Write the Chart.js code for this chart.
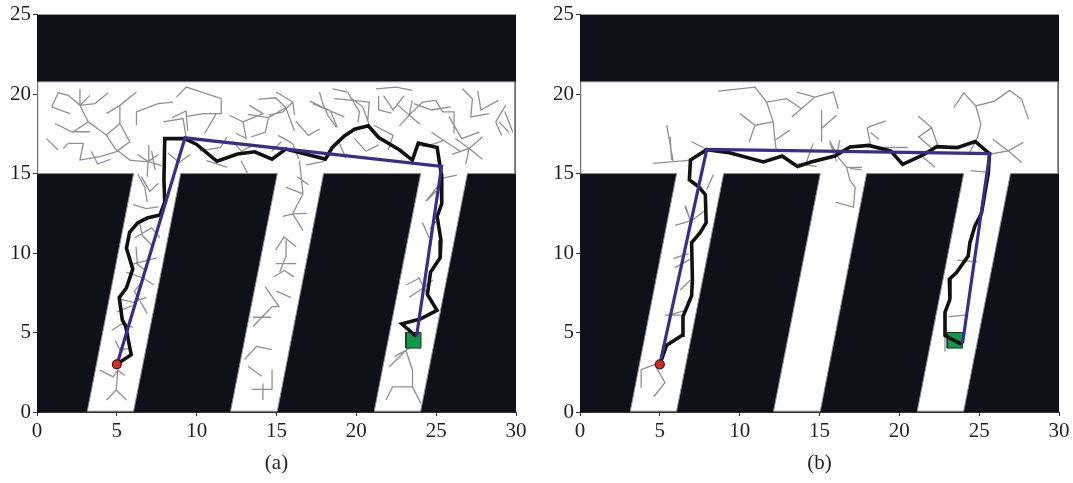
<!DOCTYPE html>
<html>
<head>
<meta charset="utf-8">
<script src="https://cdn.jsdelivr.net/npm/chart.js@4/dist/chart.umd.min.js"></script>
<style>
  html, body { margin: 0; padding: 0; background: #ffffff; }
  #wrap { position: relative; width: 1073px; height: 483px; overflow: hidden; }
  canvas { position: absolute; top: 0; }
</style>
</head>
<body>
<div id="wrap">
  <canvas id="ca" width="540" height="483" style="left:0px"></canvas>
  <canvas id="cb" width="533" height="483" style="left:540px"></canvas>
</div>
<script>
// ---------------- DATA ----------------
const xTicks = [0, 5, 10, 15, 20, 25, 30];
const yTicks = [0, 5, 10, 15, 20, 25];
const captions = ['(a)', '(b)'];

// free space (white) of the map
const freeSpace = [[0.05,15],[0.05,20.77],[29.93,20.77],[29.93,15],[26.96,15],[24.03,0.05],[21.12,0.05],[24.03,15],
  [17.95,15],[15.05,0.05],[12.12,0.05],[15.05,15],[9.0,15],[6.05,0.05],[3.15,0.05],[6.05,15],[0.05,15]];

const startPoint = [5, 3];

const goalA = [[23.1,4.02],[24.05,4.02],[24.05,5.0],[23.1,5.0],[23.1,4.02]];
const goalB = [[23.0,4.02],[23.96,4.02],[23.96,5.0],[23.0,5.0],[23.0,4.02]];

const pathA = [[5.0,3.0],[5.9,3.6],[5.55,5.4],[5.34,5.8],[5.15,7.2],[5.6,7.8],[6.0,9.0],[5.6,10.3],[5.8,11.3],[6.3,11.9],
  [6.9,12.2],[7.7,12.4],[8.0,13.2],[7.95,14.6],[8.0,17.2],[9.25,17.2],[9.98,16.85],[11.27,15.77],[12.56,16.23],
  [13.64,16.37],[14.72,15.91],[15.58,16.54],[18.06,15.91],[18.49,16.64],[19.25,17.37],[19.89,17.79],[20.75,18.0],
  [21.4,17.27],[22.69,16.5],[23.51,15.85],[23.88,16.91],[25.06,16.64],[25.32,14.97],[25.35,13.1],[25.06,12.3],
  [25.3,10.8],[25.25,9.7],[24.65,8.8],[24.45,7.4],[25.05,6.4],[24.0,5.85],[22.85,5.55],[23.75,4.75]];
const shortA = [[5.02,3.02],[9.27,17.25],[25.34,15.45],[23.77,4.75]];

const pathB = [[5.0,3.0],[5.43,4.2],[6.4,4.83],[6.45,6.0],[6.99,7.31],[7.04,8.3],[6.99,10.65],[7.51,11.27],[7.9,11.9],
  [7.85,13.67],[7.41,14.19],[6.85,14.6],[6.92,15.85],[7.94,16.5],[9.36,16.31],[11.49,15.73],[12.66,16.1],[13.62,15.44],
  [14.47,15.73],[15.96,16.1],[16.91,16.67],[18.09,16.77],[19.47,16.42],[20.21,15.58],[21.49,16.17],[22.34,16.69],
  [23.62,16.63],[24.75,17.02],[25.65,16.25],[25.57,15.02],[25.15,12.52],[24.73,11.69],[24.42,10.65],[24.31,9.81],
  [23.58,8.77],[23.13,8.35],[23.17,7.1],[22.86,6.27],[22.86,4.81],[23.9,4.25]];
const shortB = [[5.0,3.0],[7.94,16.52],[25.66,16.25],[23.96,4.33]];

// exploration tree branches (polylines)
const treeA = [
  [[0.92,19.19],[2.06,18.77]],
  [[0.92,19.19],[1.33,20.08],[1.96,19.92],[2.69,19.29],[3.31,19.92]],
  [[2.69,20.33],[2.69,19.29],[3.21,18.25],[2.27,17.63]],
  [[2.69,19.29],[3.63,19.4],[4.46,20.08]],
  [[3.21,18.25],[4.35,17.42],[4.88,16.58]],
  [[1.13,18.15],[2.17,17.63],[3.31,17.63]],
  [[4.35,17.42],[5.19,18.15],[5.81,17.0],[4.98,16.38]],
  [[4.35,18.77],[5.19,19.29],[6.23,20.13]],
  [[5.19,18.15],[5.19,19.29]],
  [[6.23,18.04],[6.23,18.88],[7.58,19.4],[8.52,19.5]],
  [[7.9,18.25],[9.15,18.46],[9.35,17.21]],
  [[8.73,19.81],[9.35,20.44],[9.98,20.23],[11.54,19.71]],
  [[11.54,19.71],[11.54,18.77],[10.4,18.77],[9.4,18.6]],
  [[11.23,18.77],[10.5,17.52]],
  [[1.65,16.58],[1.96,16.9],[2.9,16.9],[2.69,15.85],[3.94,16.06],[4.98,16.38]],
  [[4.88,16.58],[5.81,15.85],[6.75,15.75],[6.96,15.75]],
  [[6.3,16.2],[6.96,15.75],[7.6,16.2]],
  [[6.96,15.75],[7.8,15.5]],
  [[6.96,15.75],[6.9,14.8]],
  [[6.96,15.75],[7.0,16.8]],
  [[12.06,18.67],[12.9,18.25],[13.1,17.21],[12.48,17.52]],
  [[12.9,18.25],[14.15,18.77],[13.31,19.29]],
  [[13.21,18.73],[14.5,18.52],[15.58,19.15],[16.12,17.69]],
  [[13.86,19.67],[14.94,19.77],[15.58,19.15]],
  [[14.5,18.52],[14.3,17.6],[13.4,17.3]],
  [[15.1,17.4],[16.0,16.9],[16.4,15.9]],
  [[12.3,17.0],[12.8,16.4],[13.6,16.8]],
  [[14.98,20.13],[16.02,19.5],[15.4,18.88],[14.56,18.67]],
  [[16.02,19.5],[16.13,18.67]],
  [[17.69,20.13],[17.9,19.4],[18.21,18.67],[18.73,17.94]],
  [[17.27,19.4],[19.25,18.56]],
  [[18.52,20.33],[19.46,20.13],[20.19,18.88],[20.1,18.2]],
  [[18.62,19.71],[19.75,19.6],[20.81,19.5],[20.71,18.25]],
  [[21.23,20.33],[22.48,20.44],[23.52,20.23]],
  [[21.4,19.9],[21.4,19.0],[22.2,18.8]],
  [[22.5,19.4],[23.31,18.67],[24.15,19.5],[24.98,19.6]],
  [[23.31,18.67],[22.7,18.0]],
  [[23.31,18.67],[23.5,19.6]],
  [[23.31,18.67],[24.0,18.1]],
  [[24.98,19.6],[25.4,18.88],[26.12,18.88],[26.12,17.52]],
  [[26.2,17.2],[27.06,16.58],[27.9,17.3]],
  [[27.06,16.58],[27.9,15.9]],
  [[27.06,16.58],[26.85,15.6]],
  [[27.06,16.58],[26.0,16.2]],
  [[26.65,20.33],[27.27,19.71],[27.17,18.56],[28.31,18.77]],
  [[28.73,18.25],[29.35,19.29]],
  [[28.94,18.25],[29.56,17.6]],
  [[28.73,18.25],[29.1,17.4]],
  [[24.15,16.69],[24.98,16.9],[25.5,17.1]],
  [[18.94,16.9],[19.35,15.96]],
  [[16.85,15.54],[17.9,15.75],[18.5,16.3]],
  [[21.1,18.04],[22.3,17.4],[22.0,16.5]],
  [[14.7,16.4],[15.3,17.0]],
  [[8.47,18.52],[9.33,18.94],[9.44,17.69]],
  [[10.19,16.43],[11.49,16.64],[11.9,17.3]],
  [[10.62,15.81],[11.92,15.39]],
  [[12.78,15.81],[13.21,14.97]],
  [[17.09,19.56],[18.38,18.94],[18.81,17.9]],
  [[19.6,19.8],[20.4,19.2],[20.9,17.8]],
  [[21.7,19.9],[22.3,19.0],[23.0,19.9]],
  [[23.6,19.4],[24.7,19.0],[25.9,19.2]],
  [[25.8,18.6],[26.6,17.2],[27.7,17.6]],
  [[24.7,17.6],[25.6,17.0],[26.5,16.4]],
  [[27.6,20.2],[27.8,19.0],[28.9,19.6]],
  [[29.3,18.9],[29.8,17.6]],
  [[3.4,16.4],[3.8,15.6],[4.6,15.9]],
  [[0.6,17.2],[1.3,16.5]],
  [[19.9,17.2],[20.6,16.4],[21.4,16.8]],
  [[16.2,18.3],[17.0,17.4],[17.7,17.8]],
  [[8.2,16.3],[8.9,15.7],[9.6,16.2]],
  [[6.54,14.81],[7.06,13.88],[7.6,14.4]],
  [[6.02,13.04],[6.85,12.8],[7.6,12.9]],
  [[6.13,10.96],[7.17,11.58],[7.69,10.96]],
  [[6.2,10.4],[6.29,9.29],[6.8,8.9]],
  [[6.0,9.3],[7.5,9.7]],
  [[5.6,8.8],[6.7,8.4],[7.3,8.0]],
  [[5.19,7.1],[6.02,6.9],[6.85,7.21]],
  [[5.0,6.3],[6.0,6.7]],
  [[4.67,5.13],[5.29,5.54],[6.02,5.33]],
  [[4.9,4.5],[5.2,3.9],[5.8,4.0]],
  [[3.94,2.63],[4.77,2.21],[5.06,2.63]],
  [[5.06,2.63],[4.96,1.38],[5.6,0.75]],
  [[4.96,1.38],[4.35,0.75]],
  [[5.06,2.63],[5.5,2.3]],
  [[6.31,14.97],[6.75,14.14],[6.9,13.2]],
  [[7.18,16.43],[7.4,15.2]],
  [[6.4,12.0],[6.6,11.1],[7.3,10.4]],
  [[6.5,8.1],[6.1,7.6],[6.9,6.2]],
  [[16.44,15.81],[16.66,13.72],[16.01,12.47],[16.66,11.43]],
  [[15.58,14.14],[16.66,13.72]],
  [[15.4,12.3],[16.01,12.47],[16.9,12.5]],
  [[16.23,10.39],[15.47,11.01],[14.94,10.18]],
  [[14.94,9.34],[16.23,9.34]],
  [[14.83,8.51],[15.5,8.9],[16.1,8.5]],
  [[14.29,7.88],[15.15,6.63],[14.72,6.63],[13.53,5.38]],
  [[13.75,4.13],[13.0,3.3]],
  [[13.75,4.13],[14.72,3.92]],
  [[13.21,2.88],[14.07,2.25]],
  [[13.43,1.42],[14.72,1.42],[14.72,2.67]],
  [[15.6,10.8],[15.6,9.8],[15.2,8.8]],
  [[13.52,5.96],[14.67,5.96]],
  [[14.15,1.79],[14.15,0.75]],
  [[16.3,14.8],[17.0,14.3]],
  [[15.0,7.6],[15.9,7.2]],
  [[25.4,14.71],[26.3,14.9]],
  [[24.35,13.25],[25.1,14.2]],
  [[24.15,11.9],[24.56,10.96]],
  [[23.31,7.21],[24.23,7.83],[24.8,8.3]],
  [[24.23,7.83],[23.9,8.5]],
  [[24.23,7.83],[24.6,7.1]],
  [[22.06,2.83],[23.1,3.88],[23.8,4.3]],
  [[23.1,3.88],[23.52,2.63],[23.52,1.58],[22.27,1.58],[21.85,0.75]],
  [[23.52,1.58],[24.04,0.54]],
  [[22.4,3.5],[23.1,3.88]],
  [[24.42,13.31],[25.0,13.9]],
  [[23.13,7.99],[23.9,8.4]],
  [[24.6,11.5],[25.0,12.0]]
];

const treeB = [
  [[8.66,20.19],[10.96,20.44],[11.69,19.5],[12.1,18.25],[12.21,17.1],[12.3,16.4]],
  [[12.1,18.25],[10.96,18.04],[10.02,18.77]],
  [[10.96,18.04],[10.6,17.0]],
  [[11.69,19.5],[12.94,19.71],[13.88,19.08]],
  [[13.57,20.13],[14.72,19.81],[15.86,20.13],[16.17,19.08]],
  [[14.72,19.81],[13.26,18.56]],
  [[12.21,17.1],[13.15,17.73]],
  [[15.13,18.98],[15.13,17.0]],
  [[15.13,17.83],[16.07,18.67]],
  [[14.61,16.9],[14.19,15.75]],
  [[15.65,17.0],[16.07,15.75]],
  [[16.28,17.1],[16.07,16.2]],
  [[5.43,18.04],[5.84,15.75]],
  [[4.59,15.64],[6.99,15.85]],
  [[6.99,17.0],[8.03,16.48]],
  [[13.67,15.64],[14.82,15.44]],
  [[16.9,15.33],[17.64,15.23]],
  [[15.64,17.06],[16.17,16.02],[16.7,15.39],[17.66,15.39]],
  [[16.7,15.39],[16.91,14.56],[17.23,14.14],[17.13,12.89],[16.0,13.2]],
  [[17.98,17.89],[19.15,18.31]],
  [[17.98,17.89],[18.19,16.85]],
  [[18.19,17.58],[18.72,17.16]],
  [[18.72,16.64],[20.53,16.64]],
  [[21.17,18.62],[22.02,17.89],[22.45,16.64]],
  [[21.17,17.27],[22.02,17.89]],
  [[21.49,16.02],[22.23,15.39]],
  [[23.4,19.14],[24.04,20.08],[24.79,19.25],[25.96,19.56],[26.91,20.23],[27.66,19.67],[28.09,18.41]],
  [[24.79,19.25],[25.11,18.1],[24.89,17.27],[24.36,16.23]],
  [[25.85,17.16],[26.81,16.43],[27.66,15.7]],
  [[26.81,16.43],[27.77,16.96]],
  [[25.74,16.23],[26.81,16.43]],
  [[24.47,15.18],[25.53,15.08]],
  [[23.62,9.55],[24.89,9.45]],
  [[23.09,6.0],[24.15,6.1]],
  [[22.86,4.84],[22.86,3.8]],
  [[6.6,12.99],[6.91,12.05]],
  [[5.96,11.74],[7.02,12.05],[7.83,12.68]],
  [[5.85,9.66],[6.81,9.97]],
  [[6.28,7.67],[6.91,8.3]],
  [[5.32,6.1],[6.38,6.1]],
  [[3.83,2.67],[4.68,2.98],[5.32,1.84],[4.62,0.96]],
  [[3.83,2.67],[3.83,1.52]],
  [[5.64,17.3],[5.74,15.85]],
  [[8.35,14.92],[7.93,13.98]],
  [[6.57,12.94],[6.89,12.1]],
  [[5.95,9.08],[6.89,9.6]],
  [[5.43,6.06],[6.57,6.38]],
  [[21.18,17.35],[22.12,16.52]]
];

// ---------------- HELPERS ----------------
const toPts = arr => arr.map(p => ({x: p[0], y: p[1]}));
const polylines = list => {
  const out = [];
  list.forEach((pl, i) => {
    if (i > 0) out.push({x: null, y: null});
    pl.forEach(p => out.push({x: p[0], y: p[1]}));
  });
  return out;
};

Chart.defaults.font.family = "'Liberation Serif', 'DejaVu Serif', serif";
Chart.defaults.color = '#231f20';

const plotBg = {
  id: 'plotBg',
  beforeDatasetsDraw(chart) {
    const {ctx, chartArea: a} = chart;
    ctx.save();
    ctx.fillStyle = '#0e1118';
    ctx.fillRect(a.left, a.top, a.right - a.left, a.bottom - a.top);
    ctx.restore();
  }
};

function makeChart(id, yAxisWidth, rightPad, tree, path, shortPath, goal, caption) {
  return new Chart(document.getElementById(id), {
    type: 'scatter',
    data: {
      datasets: [
        { data: toPts(freeSpace), showLine: true, fill: 'shape', backgroundColor: '#ffffff',
          borderColor: '#8a8a8a', borderWidth: 1, pointRadius: 0, order: 10 },
        { data: polylines(tree), showLine: true, spanGaps: false, borderColor: '#8f8f8f',
          borderWidth: 1.3, pointRadius: 0, fill: false, order: 8 },
        { data: toPts(goal), showLine: true, fill: 'shape', backgroundColor: '#0f9a48',
          borderColor: '#2a2a2a', borderWidth: 1, pointRadius: 0, order: 6 },
        { data: toPts(path), showLine: true, borderColor: '#111111', borderWidth: 3.6,
          pointRadius: 0, fill: false, borderJoinStyle: 'miter', order: 4 },
        { data: toPts(shortPath), showLine: true, borderColor: '#3a2d8c', borderWidth: 3.2,
          pointRadius: 0, fill: false, order: 3 },
        { data: [{x: startPoint[0], y: startPoint[1]}], showLine: false, pointRadius: 4.5,
          pointBackgroundColor: '#d42a1f', pointBorderColor: '#3a1a1a', pointBorderWidth: 1.2, order: 1 }
      ]
    },
    options: {
      responsive: false,
      animation: false,
      layout: { padding: { top: 12, right: rightPad, bottom: 0, left: 0 } },
      plugins: { legend: { display: false }, tooltip: { enabled: false } },
      scales: {
        x: {
          type: 'linear', min: 0, max: 30,
          afterBuildTicks: s => { s.ticks = xTicks.map(v => ({value: v})); },
          afterFit: s => { s.height = 71; },
          grid: { drawOnChartArea: false, drawTicks: true, tickLength: 4, color: '#333333' },
          border: { display: true, color: '#333333', width: 1 },
          ticks: { font: { size: 21 }, padding: 3, color: '#231f20', maxRotation: 0 },
          title: { display: true, text: caption, font: { size: 21 }, color: '#231f20',
                   padding: { top: 0, bottom: 7 } }
        },
        y: {
          type: 'linear', min: 0, max: 25,
          afterBuildTicks: s => { s.ticks = yTicks.map(v => ({value: v})); },
          afterFit: s => { s.width = yAxisWidth; },
          grid: { drawOnChartArea: false, drawTicks: true, tickLength: 4, color: '#333333' },
          border: { display: true, color: '#333333', width: 1 },
          ticks: { font: { size: 21 }, padding: 2, color: '#231f20' }
        }
      }
    },
    plugins: [plotBg]
  });
}

makeChart('ca', 37, 24, treeA, pathA, shortA, goalA, captions[0]);
makeChart('cb', 40, 14, treeB, pathB, shortB, goalB, captions[1]);
</script>
</body>
</html>
